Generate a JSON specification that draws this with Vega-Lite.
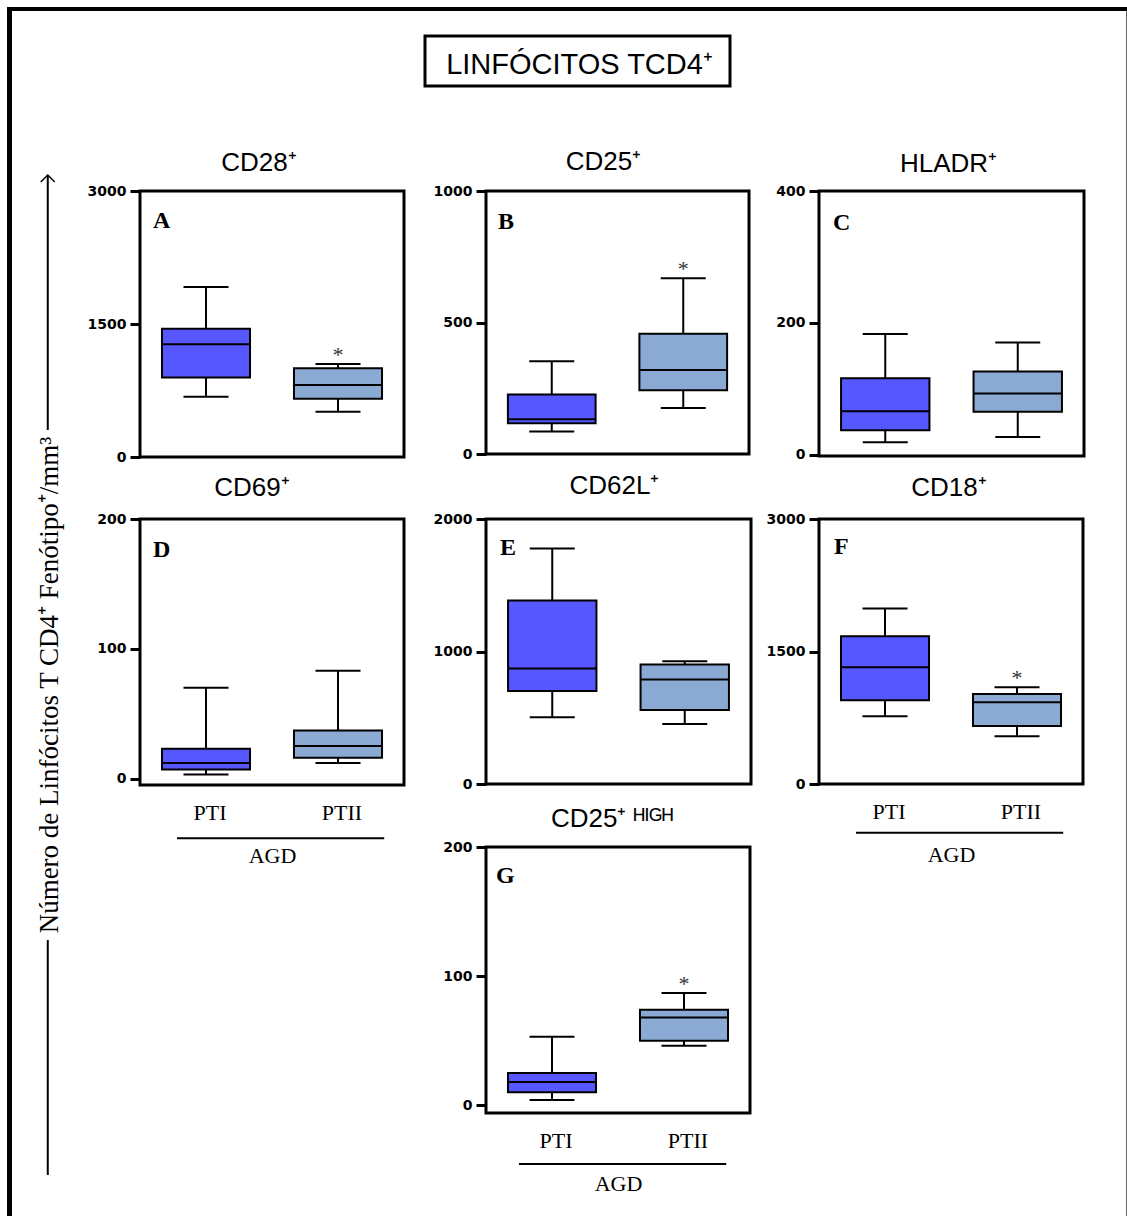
{
  "$schema": "https://vega.github.io/schema/vega-lite/v6.json",
  "padding": {"left": 7, "top": 7, "right": 0, "bottom": 0},
  "background": "white",
  "spacing": 0,
  "datasets": {
    "cajas": [
      {"panel": "A", "grupo": "PTI", "min": 679, "q1": 898, "mediana": 1271, "q3": 1446, "max": 1917, "sig": ""},
      {"panel": "A", "grupo": "PTII", "min": 509, "q1": 657, "mediana": 812, "q3": 1000, "max": 1049, "sig": "*"},
      {"panel": "B", "grupo": "PTI", "min": 86, "q1": 117, "mediana": 132, "q3": 226, "max": 353, "sig": ""},
      {"panel": "B", "grupo": "PTII", "min": 175, "q1": 242, "mediana": 319, "q3": 457, "max": 668, "sig": "*"},
      {"panel": "C", "grupo": "PTI", "min": 19, "q1": 37, "mediana": 66, "q3": 116, "max": 183, "sig": ""},
      {"panel": "C", "grupo": "PTII", "min": 27, "q1": 65, "mediana": 93, "q3": 126, "max": 170, "sig": ""},
      {"panel": "D", "grupo": "PTI", "min": 3, "q1": 7, "mediana": 12, "q3": 23, "max": 70, "sig": ""},
      {"panel": "D", "grupo": "PTII", "min": 12, "q1": 16, "mediana": 25, "q3": 37, "max": 83, "sig": ""},
      {"panel": "E", "grupo": "PTI", "min": 503, "q1": 702, "mediana": 871, "q3": 1384, "max": 1777, "sig": ""},
      {"panel": "E", "grupo": "PTII", "min": 453, "q1": 558, "mediana": 788, "q3": 901, "max": 926, "sig": ""},
      {"panel": "F", "grupo": "PTI", "min": 766, "q1": 947, "mediana": 1321, "q3": 1672, "max": 1987, "sig": ""},
      {"panel": "F", "grupo": "PTII", "min": 540, "q1": 657, "mediana": 925, "q3": 1018, "max": 1095, "sig": "*"},
      {"panel": "G", "grupo": "PTI", "min": 4, "q1": 10, "mediana": 18, "q3": 25, "max": 53, "sig": ""},
      {"panel": "G", "grupo": "PTII", "min": 46, "q1": 50, "mediana": 68, "q3": 74, "max": 87, "sig": "*"}
    ],
    "paneles": [
      {"panel": "A", "letra": "A"},
      {"panel": "B", "letra": "B"},
      {"panel": "C", "letra": "C"},
      {"panel": "D", "letra": "D"},
      {"panel": "E", "letra": "E"},
      {"panel": "F", "letra": "F"},
      {"panel": "G", "letra": "G"}
    ],
    "encabezado": [{"titulo": "LINFÓCITOS TCD4⁺"}]
  },
  "vconcat": [
    {
      "width": 1120, "height": 4,
      "view": {"fill": "black", "stroke": null},
      "data": {"values": []},
      "mark": "point"
    },
    {
      "spacing": 0,
      "hconcat": [
        {
          "width": 5, "height": 1205,
          "view": {"fill": "black", "stroke": null},
          "data": {"values": []},
          "mark": "point"
        },
        {
          "width": 73, "height": 1205,
          "data": {"values": [{}]},
          "encoding": {"x": {"datum": 0.49, "type": "quantitative", "scale": {"domain": [0, 1]}, "axis": null}},
          "layer": [
            {
              "mark": {"type": "rule", "color": "black", "strokeWidth": 2},
              "encoding": {"y": {"datum": 0.034, "type": "quantitative", "scale": {"domain": [0, 1]}, "axis": null}, "y2": {"datum": 0.229}}
            },
            {
              "mark": {"type": "rule", "color": "black", "strokeWidth": 2},
              "encoding": {"y": {"datum": 0.6523, "type": "quantitative", "scale": {"domain": [0, 1]}, "axis": null}, "y2": {"datum": 0.8639}}
            },
            {
              "mark": {"type": "point", "shape": "M -1 1 L 0 0 L 1 1", "filled": false, "stroke": "black", "strokeWidth": 1.5, "size": 196, "opacity": 1},
              "encoding": {"y": {"datum": 0.8639, "type": "quantitative", "scale": {"domain": [0, 1]}, "axis": null}}
            },
            {
              "mark": {"type": "text", "angle": 270, "font": "Liberation Serif", "fontSize": 27, "color": "black", "align": "center", "baseline": "middle", "dy": 2},
              "encoding": {
                "y": {"datum": 0.4407, "type": "quantitative", "scale": {"domain": [0, 1]}, "axis": null},
                "text": {"value": "Número de Linfócitos T CD4⁺ Fenótipo⁺/mm³"}
              }
            }
          ]
        },
        {
          "spacing": 0,
          "vconcat": [
            {
              "spacing": 0,
              "hconcat": [
                {"width": 283, "height": 75, "data": {"values": []}, "mark": "point"},
                {
                  "spacing": 0,
                  "vconcat": [
                    {"width": 305, "height": 22.5, "data": {"values": []}, "mark": "point"},
                    {
                      "width": 305, "height": 50,
                      "view": {"stroke": "black", "strokeWidth": 3},
                      "data": {"name": "encabezado"},
                      "mark": {"type": "text", "font": "Liberation Sans", "fontSize": 29, "color": "black", "baseline": "middle", "dy": 4, "dx": 2},
                      "encoding": {"text": {"field": "titulo"}}
                    }
                  ]
                }
              ]
            },
            {
              "columns": 3,
              "spacing": {"row": 62, "column": 68},
              "bounds": "flush",
              "align": "each",
              "concat": [
                {"width": 278, "height": 40.5, "data": {"values": []}, "mark": "point"},
                {"width": 264, "height": 40.5, "data": {"values": []}, "mark": "point"},
                {"width": 307, "height": 40.5, "data": {"values": []}, "mark": "point"},

                {
                  "width": 264, "height": 266,
                  "title": {"text": "CD28⁺", "offset": 8, "dx": -13},
                  "view": {"stroke": "black", "strokeWidth": 3},
                  "data": {"name": "cajas"},
                  "transform": [{"filter": "datum.panel === 'A'"}],
                  "encoding": {"x": {"field": "grupo", "type": "nominal", "scale": {"domain": ["PTI", "PTII"], "paddingInner": 0, "paddingOuter": 0}, "axis": null}},
                  "layer": [
                    {"mark": {"type": "rule", "color": "black", "strokeWidth": 2},
                     "encoding": {"y": {"field": "min", "type": "quantitative", "title": null, "scale": {"domain": [0, 3000], "nice": false, "zero": false}, "axis": {"values": [0, 1500, 3000]}}, "y2": {"field": "max"}}},
                    {"mark": {"type": "tick", "color": "black", "thickness": 2, "orient": "horizontal", "opacity": 1},
                     "encoding": {"y": {"field": "min", "type": "quantitative", "title": null, "scale": {"domain": [0, 3000], "nice": false, "zero": false}, "axis": {"values": [0, 1500, 3000]}}, "size": {"value": 45}}},
                    {"mark": {"type": "tick", "color": "black", "thickness": 2, "orient": "horizontal", "opacity": 1},
                     "encoding": {"y": {"field": "max", "type": "quantitative", "title": null, "scale": {"domain": [0, 3000], "nice": false, "zero": false}, "axis": {"values": [0, 1500, 3000]}}, "size": {"value": 45}}},
                    {"mark": {"type": "bar", "width": {"band": 0.667}, "stroke": "black", "strokeWidth": 2, "opacity": 1},
                     "encoding": {"y": {"field": "q1", "type": "quantitative", "title": null, "scale": {"domain": [0, 3000], "nice": false, "zero": false}, "axis": {"values": [0, 1500, 3000]}}, "y2": {"field": "q3"},
                                  "color": {"field": "grupo", "type": "nominal", "scale": {"domain": ["PTI", "PTII"], "range": ["#5757FF", "#8BAAD3"]}, "legend": null}}},
                    {"mark": {"type": "tick", "color": "black", "thickness": 2, "orient": "horizontal", "opacity": 1},
                     "encoding": {"y": {"field": "mediana", "type": "quantitative", "title": null, "scale": {"domain": [0, 3000], "nice": false, "zero": false}, "axis": {"values": [0, 1500, 3000]}}, "size": {"value": 88}}},
                    {"mark": {"type": "text", "font": "Liberation Serif", "fontSize": 22, "color": "#333333", "baseline": "alphabetic", "dy": -2},
                     "encoding": {"y": {"field": "max", "type": "quantitative", "title": null, "scale": {"domain": [0, 3000], "nice": false, "zero": false}, "axis": {"values": [0, 1500, 3000]}}, "text": {"field": "sig"}}},
                    {"data": {"name": "paneles"}, "transform": [{"filter": "datum.panel === 'A'"}],
                     "mark": {"type": "text", "font": "Liberation Serif", "fontSize": 24, "fontWeight": "bold", "color": "black", "align": "left", "baseline": "alphabetic", "dx": 13, "dy": 37},
                     "encoding": {"x": {"datum": "PTI", "bandPosition": 0, "axis": null}, "y": {"datum": 3000, "title": null, "axis": {"values": [0, 1500, 3000]}}, "text": {"field": "letra"}}}
                  ]
                },

                {
                  "width": 263, "height": 263,
                  "title": {"text": "CD25⁺", "offset": 9, "dx": -14},
                  "view": {"stroke": "black", "strokeWidth": 3},
                  "data": {"name": "cajas"},
                  "transform": [{"filter": "datum.panel === 'B'"}],
                  "encoding": {"x": {"field": "grupo", "type": "nominal", "scale": {"domain": ["PTI", "PTII"], "paddingInner": 0, "paddingOuter": 0}, "axis": null}},
                  "layer": [
                    {"mark": {"type": "rule", "color": "black", "strokeWidth": 2},
                     "encoding": {"y": {"field": "min", "type": "quantitative", "title": null, "scale": {"domain": [0, 1000], "nice": false, "zero": false}, "axis": {"values": [0, 500, 1000]}}, "y2": {"field": "max"}}},
                    {"mark": {"type": "tick", "color": "black", "thickness": 2, "orient": "horizontal", "opacity": 1},
                     "encoding": {"y": {"field": "min", "type": "quantitative", "title": null, "scale": {"domain": [0, 1000], "nice": false, "zero": false}, "axis": {"values": [0, 500, 1000]}}, "size": {"value": 45}}},
                    {"mark": {"type": "tick", "color": "black", "thickness": 2, "orient": "horizontal", "opacity": 1},
                     "encoding": {"y": {"field": "max", "type": "quantitative", "title": null, "scale": {"domain": [0, 1000], "nice": false, "zero": false}, "axis": {"values": [0, 500, 1000]}}, "size": {"value": 45}}},
                    {"mark": {"type": "bar", "width": {"band": 0.667}, "stroke": "black", "strokeWidth": 2, "opacity": 1},
                     "encoding": {"y": {"field": "q1", "type": "quantitative", "title": null, "scale": {"domain": [0, 1000], "nice": false, "zero": false}, "axis": {"values": [0, 500, 1000]}}, "y2": {"field": "q3"},
                                  "color": {"field": "grupo", "type": "nominal", "scale": {"domain": ["PTI", "PTII"], "range": ["#5757FF", "#8BAAD3"]}, "legend": null}}},
                    {"mark": {"type": "tick", "color": "black", "thickness": 2, "orient": "horizontal", "opacity": 1},
                     "encoding": {"y": {"field": "mediana", "type": "quantitative", "title": null, "scale": {"domain": [0, 1000], "nice": false, "zero": false}, "axis": {"values": [0, 500, 1000]}}, "size": {"value": 88}}},
                    {"mark": {"type": "text", "font": "Liberation Serif", "fontSize": 22, "color": "#333333", "baseline": "alphabetic", "dy": -2},
                     "encoding": {"y": {"field": "max", "type": "quantitative", "title": null, "scale": {"domain": [0, 1000], "nice": false, "zero": false}, "axis": {"values": [0, 500, 1000]}}, "text": {"field": "sig"}}},
                    {"data": {"name": "paneles"}, "transform": [{"filter": "datum.panel === 'B'"}],
                     "mark": {"type": "text", "font": "Liberation Serif", "fontSize": 24, "fontWeight": "bold", "color": "black", "align": "left", "baseline": "alphabetic", "dx": 12, "dy": 38},
                     "encoding": {"x": {"datum": "PTI", "bandPosition": 0, "axis": null}, "y": {"datum": 1000, "title": null, "axis": {"values": [0, 500, 1000]}}, "text": {"field": "letra"}}}
                  ]
                },

                {
                  "width": 265, "height": 265,
                  "title": {"text": "HLADR⁺", "offset": 7, "dx": -3},
                  "view": {"stroke": "black", "strokeWidth": 3},
                  "data": {"name": "cajas"},
                  "transform": [{"filter": "datum.panel === 'C'"}],
                  "encoding": {"x": {"field": "grupo", "type": "nominal", "scale": {"domain": ["PTI", "PTII"], "paddingInner": 0, "paddingOuter": 0}, "axis": null}},
                  "layer": [
                    {"mark": {"type": "rule", "color": "black", "strokeWidth": 2},
                     "encoding": {"y": {"field": "min", "type": "quantitative", "title": null, "scale": {"domain": [-2, 400], "nice": false, "zero": false}, "axis": {"values": [0, 200, 400]}}, "y2": {"field": "max"}}},
                    {"mark": {"type": "tick", "color": "black", "thickness": 2, "orient": "horizontal", "opacity": 1},
                     "encoding": {"y": {"field": "min", "type": "quantitative", "title": null, "scale": {"domain": [-2, 400], "nice": false, "zero": false}, "axis": {"values": [0, 200, 400]}}, "size": {"value": 45}}},
                    {"mark": {"type": "tick", "color": "black", "thickness": 2, "orient": "horizontal", "opacity": 1},
                     "encoding": {"y": {"field": "max", "type": "quantitative", "title": null, "scale": {"domain": [-2, 400], "nice": false, "zero": false}, "axis": {"values": [0, 200, 400]}}, "size": {"value": 45}}},
                    {"mark": {"type": "bar", "width": {"band": 0.667}, "stroke": "black", "strokeWidth": 2, "opacity": 1},
                     "encoding": {"y": {"field": "q1", "type": "quantitative", "title": null, "scale": {"domain": [-2, 400], "nice": false, "zero": false}, "axis": {"values": [0, 200, 400]}}, "y2": {"field": "q3"},
                                  "color": {"field": "grupo", "type": "nominal", "scale": {"domain": ["PTI", "PTII"], "range": ["#5757FF", "#8BAAD3"]}, "legend": null}}},
                    {"mark": {"type": "tick", "color": "black", "thickness": 2, "orient": "horizontal", "opacity": 1},
                     "encoding": {"y": {"field": "mediana", "type": "quantitative", "title": null, "scale": {"domain": [-2, 400], "nice": false, "zero": false}, "axis": {"values": [0, 200, 400]}}, "size": {"value": 88}}},
                    {"data": {"name": "paneles"}, "transform": [{"filter": "datum.panel === 'C'"}],
                     "mark": {"type": "text", "font": "Liberation Serif", "fontSize": 24, "fontWeight": "bold", "color": "black", "align": "left", "baseline": "alphabetic", "dx": 14, "dy": 39},
                     "encoding": {"x": {"datum": "PTI", "bandPosition": 0, "axis": null}, "y": {"datum": 400, "title": null, "axis": {"values": [0, 200, 400]}}, "text": {"field": "letra"}}}
                  ]
                },

                {
                  "width": 264, "height": 266,
                  "title": {"text": "CD69⁺", "offset": 11, "dx": -20},
                  "view": {"stroke": "black", "strokeWidth": 3},
                  "data": {"name": "cajas"},
                  "transform": [{"filter": "datum.panel === 'D'"}],
                  "encoding": {"x": {"field": "grupo", "type": "nominal", "title": "AGD", "scale": {"domain": ["PTI", "PTII"], "paddingInner": 0, "paddingOuter": 0}, "axis": {}}},
                  "layer": [
                    {"mark": {"type": "rule", "color": "black", "strokeWidth": 2},
                     "encoding": {"y": {"field": "min", "type": "quantitative", "title": null, "scale": {"domain": [-5, 200], "nice": false, "zero": false}, "axis": {"values": [0, 100, 200]}}, "y2": {"field": "max"}}},
                    {"mark": {"type": "tick", "color": "black", "thickness": 2, "orient": "horizontal", "opacity": 1},
                     "encoding": {"y": {"field": "min", "type": "quantitative", "title": null, "scale": {"domain": [-5, 200], "nice": false, "zero": false}, "axis": {"values": [0, 100, 200]}}, "size": {"value": 45}}},
                    {"mark": {"type": "tick", "color": "black", "thickness": 2, "orient": "horizontal", "opacity": 1},
                     "encoding": {"y": {"field": "max", "type": "quantitative", "title": null, "scale": {"domain": [-5, 200], "nice": false, "zero": false}, "axis": {"values": [0, 100, 200]}}, "size": {"value": 45}}},
                    {"mark": {"type": "bar", "width": {"band": 0.667}, "stroke": "black", "strokeWidth": 2, "opacity": 1},
                     "encoding": {"y": {"field": "q1", "type": "quantitative", "title": null, "scale": {"domain": [-5, 200], "nice": false, "zero": false}, "axis": {"values": [0, 100, 200]}}, "y2": {"field": "q3"},
                                  "color": {"field": "grupo", "type": "nominal", "scale": {"domain": ["PTI", "PTII"], "range": ["#5757FF", "#8BAAD3"]}, "legend": null}}},
                    {"mark": {"type": "tick", "color": "black", "thickness": 2, "orient": "horizontal", "opacity": 1},
                     "encoding": {"y": {"field": "mediana", "type": "quantitative", "title": null, "scale": {"domain": [-5, 200], "nice": false, "zero": false}, "axis": {"values": [0, 100, 200]}}, "size": {"value": 88}}},
                    {"data": {"name": "paneles"}, "transform": [{"filter": "datum.panel === 'D'"}],
                     "mark": {"type": "text", "font": "Liberation Serif", "fontSize": 24, "fontWeight": "bold", "color": "black", "align": "left", "baseline": "alphabetic", "dx": 13, "dy": 38},
                     "encoding": {"x": {"datum": "PTI", "bandPosition": 0, "title": "AGD", "axis": {}}, "y": {"datum": 200, "title": null, "axis": {"values": [0, 100, 200]}}, "text": {"field": "letra"}}},
                    {"data": {"name": "paneles"}, "transform": [{"filter": "datum.panel === 'D'"}],
                     "mark": {"type": "rule", "color": "black", "strokeWidth": 2},
                     "encoding": {"x": {"datum": "PTI", "bandPosition": 0.28, "title": "AGD", "axis": {}}, "x2": {"datum": "PTII", "bandPosition": 0.85}, "y": {"datum": -46, "title": null, "axis": {"values": [0, 100, 200]}}}}
                  ]
                },

                {
                  "width": 265, "height": 265,
                  "title": {"text": "CD62L⁺", "offset": 13, "dx": -4},
                  "view": {"stroke": "black", "strokeWidth": 3},
                  "data": {"name": "cajas"},
                  "transform": [{"filter": "datum.panel === 'E'"}],
                  "encoding": {"x": {"field": "grupo", "type": "nominal", "scale": {"domain": ["PTI", "PTII"], "paddingInner": 0, "paddingOuter": 0}, "axis": null}},
                  "layer": [
                    {"mark": {"type": "rule", "color": "black", "strokeWidth": 2},
                     "encoding": {"y": {"field": "min", "type": "quantitative", "title": null, "scale": {"domain": [0, 2000], "nice": false, "zero": false}, "axis": {"values": [0, 1000, 2000]}}, "y2": {"field": "max"}}},
                    {"mark": {"type": "tick", "color": "black", "thickness": 2, "orient": "horizontal", "opacity": 1},
                     "encoding": {"y": {"field": "min", "type": "quantitative", "title": null, "scale": {"domain": [0, 2000], "nice": false, "zero": false}, "axis": {"values": [0, 1000, 2000]}}, "size": {"value": 45}}},
                    {"mark": {"type": "tick", "color": "black", "thickness": 2, "orient": "horizontal", "opacity": 1},
                     "encoding": {"y": {"field": "max", "type": "quantitative", "title": null, "scale": {"domain": [0, 2000], "nice": false, "zero": false}, "axis": {"values": [0, 1000, 2000]}}, "size": {"value": 45}}},
                    {"mark": {"type": "bar", "width": {"band": 0.667}, "stroke": "black", "strokeWidth": 2, "opacity": 1},
                     "encoding": {"y": {"field": "q1", "type": "quantitative", "title": null, "scale": {"domain": [0, 2000], "nice": false, "zero": false}, "axis": {"values": [0, 1000, 2000]}}, "y2": {"field": "q3"},
                                  "color": {"field": "grupo", "type": "nominal", "scale": {"domain": ["PTI", "PTII"], "range": ["#5757FF", "#8BAAD3"]}, "legend": null}}},
                    {"mark": {"type": "tick", "color": "black", "thickness": 2, "orient": "horizontal", "opacity": 1},
                     "encoding": {"y": {"field": "mediana", "type": "quantitative", "title": null, "scale": {"domain": [0, 2000], "nice": false, "zero": false}, "axis": {"values": [0, 1000, 2000]}}, "size": {"value": 88}}},
                    {"data": {"name": "paneles"}, "transform": [{"filter": "datum.panel === 'E'"}],
                     "mark": {"type": "text", "font": "Liberation Serif", "fontSize": 24, "fontWeight": "bold", "color": "black", "align": "left", "baseline": "alphabetic", "dx": 14, "dy": 36},
                     "encoding": {"x": {"datum": "PTI", "bandPosition": 0, "axis": null}, "y": {"datum": 2000, "title": null, "axis": {"values": [0, 1000, 2000]}}, "text": {"field": "letra"}}}
                  ]
                },

                {
                  "width": 264, "height": 265,
                  "title": {"text": "CD18⁺", "offset": 11, "dx": -2},
                  "view": {"stroke": "black", "strokeWidth": 3},
                  "data": {"name": "cajas"},
                  "transform": [{"filter": "datum.panel === 'F'"}],
                  "encoding": {"x": {"field": "grupo", "type": "nominal", "title": "AGD", "scale": {"domain": ["PTI", "PTII"], "paddingInner": 0, "paddingOuter": 0}, "axis": {}}},
                  "layer": [
                    {"mark": {"type": "rule", "color": "black", "strokeWidth": 2},
                     "encoding": {"y": {"field": "min", "type": "quantitative", "title": null, "scale": {"domain": [0, 3000], "nice": false, "zero": false}, "axis": {"values": [0, 1500, 3000]}}, "y2": {"field": "max"}}},
                    {"mark": {"type": "tick", "color": "black", "thickness": 2, "orient": "horizontal", "opacity": 1},
                     "encoding": {"y": {"field": "min", "type": "quantitative", "title": null, "scale": {"domain": [0, 3000], "nice": false, "zero": false}, "axis": {"values": [0, 1500, 3000]}}, "size": {"value": 45}}},
                    {"mark": {"type": "tick", "color": "black", "thickness": 2, "orient": "horizontal", "opacity": 1},
                     "encoding": {"y": {"field": "max", "type": "quantitative", "title": null, "scale": {"domain": [0, 3000], "nice": false, "zero": false}, "axis": {"values": [0, 1500, 3000]}}, "size": {"value": 45}}},
                    {"mark": {"type": "bar", "width": {"band": 0.667}, "stroke": "black", "strokeWidth": 2, "opacity": 1},
                     "encoding": {"y": {"field": "q1", "type": "quantitative", "title": null, "scale": {"domain": [0, 3000], "nice": false, "zero": false}, "axis": {"values": [0, 1500, 3000]}}, "y2": {"field": "q3"},
                                  "color": {"field": "grupo", "type": "nominal", "scale": {"domain": ["PTI", "PTII"], "range": ["#5757FF", "#8BAAD3"]}, "legend": null}}},
                    {"mark": {"type": "tick", "color": "black", "thickness": 2, "orient": "horizontal", "opacity": 1},
                     "encoding": {"y": {"field": "mediana", "type": "quantitative", "title": null, "scale": {"domain": [0, 3000], "nice": false, "zero": false}, "axis": {"values": [0, 1500, 3000]}}, "size": {"value": 88}}},
                    {"mark": {"type": "text", "font": "Liberation Serif", "fontSize": 22, "color": "#333333", "baseline": "alphabetic", "dy": -2},
                     "encoding": {"y": {"field": "max", "type": "quantitative", "title": null, "scale": {"domain": [0, 3000], "nice": false, "zero": false}, "axis": {"values": [0, 1500, 3000]}}, "text": {"field": "sig"}}},
                    {"data": {"name": "paneles"}, "transform": [{"filter": "datum.panel === 'F'"}],
                     "mark": {"type": "text", "font": "Liberation Serif", "fontSize": 24, "fontWeight": "bold", "color": "black", "align": "left", "baseline": "alphabetic", "dx": 15, "dy": 35},
                     "encoding": {"x": {"datum": "PTI", "bandPosition": 0, "title": "AGD", "axis": {}}, "y": {"datum": 3000, "title": null, "axis": {"values": [0, 1500, 3000]}}, "text": {"field": "letra"}}},
                    {"data": {"name": "paneles"}, "transform": [{"filter": "datum.panel === 'F'"}],
                     "mark": {"type": "rule", "color": "black", "strokeWidth": 2},
                     "encoding": {"x": {"datum": "PTI", "bandPosition": 0.28, "title": "AGD", "axis": {}}, "x2": {"datum": "PTII", "bandPosition": 0.85}, "y": {"datum": -553, "title": null, "axis": {"values": [0, 1500, 3000]}}}}
                  ]
                },

                {"width": 10, "height": 10, "data": {"values": []}, "mark": "point"},

                {
                  "width": 264, "height": 266,
                  "title": {"text": "CD25⁺ ᴴᴵᴳᴴ", "offset": 8, "dx": -6},
                  "view": {"stroke": "black", "strokeWidth": 3},
                  "data": {"name": "cajas"},
                  "transform": [{"filter": "datum.panel === 'G'"}],
                  "encoding": {"x": {"field": "grupo", "type": "nominal", "title": "AGD", "scale": {"domain": ["PTI", "PTII"], "paddingInner": 0, "paddingOuter": 0}, "axis": {}}},
                  "layer": [
                    {"mark": {"type": "rule", "color": "black", "strokeWidth": 2},
                     "encoding": {"y": {"field": "min", "type": "quantitative", "title": null, "scale": {"domain": [-6, 200], "nice": false, "zero": false}, "axis": {"values": [0, 100, 200]}}, "y2": {"field": "max"}}},
                    {"mark": {"type": "tick", "color": "black", "thickness": 2, "orient": "horizontal", "opacity": 1},
                     "encoding": {"y": {"field": "min", "type": "quantitative", "title": null, "scale": {"domain": [-6, 200], "nice": false, "zero": false}, "axis": {"values": [0, 100, 200]}}, "size": {"value": 45}}},
                    {"mark": {"type": "tick", "color": "black", "thickness": 2, "orient": "horizontal", "opacity": 1},
                     "encoding": {"y": {"field": "max", "type": "quantitative", "title": null, "scale": {"domain": [-6, 200], "nice": false, "zero": false}, "axis": {"values": [0, 100, 200]}}, "size": {"value": 45}}},
                    {"mark": {"type": "bar", "width": {"band": 0.667}, "stroke": "black", "strokeWidth": 2, "opacity": 1},
                     "encoding": {"y": {"field": "q1", "type": "quantitative", "title": null, "scale": {"domain": [-6, 200], "nice": false, "zero": false}, "axis": {"values": [0, 100, 200]}}, "y2": {"field": "q3"},
                                  "color": {"field": "grupo", "type": "nominal", "scale": {"domain": ["PTI", "PTII"], "range": ["#5757FF", "#8BAAD3"]}, "legend": null}}},
                    {"mark": {"type": "tick", "color": "black", "thickness": 2, "orient": "horizontal", "opacity": 1},
                     "encoding": {"y": {"field": "mediana", "type": "quantitative", "title": null, "scale": {"domain": [-6, 200], "nice": false, "zero": false}, "axis": {"values": [0, 100, 200]}}, "size": {"value": 88}}},
                    {"mark": {"type": "text", "font": "Liberation Serif", "fontSize": 22, "color": "#333333", "baseline": "alphabetic", "dy": -2},
                     "encoding": {"y": {"field": "max", "type": "quantitative", "title": null, "scale": {"domain": [-6, 200], "nice": false, "zero": false}, "axis": {"values": [0, 100, 200]}}, "text": {"field": "sig"}}},
                    {"data": {"name": "paneles"}, "transform": [{"filter": "datum.panel === 'G'"}],
                     "mark": {"type": "text", "font": "Liberation Serif", "fontSize": 24, "fontWeight": "bold", "color": "black", "align": "left", "baseline": "alphabetic", "dx": 10, "dy": 36},
                     "encoding": {"x": {"datum": "PTI", "bandPosition": 0, "title": "AGD", "axis": {}}, "y": {"datum": 200, "title": null, "axis": {"values": [0, 100, 200]}}, "text": {"field": "letra"}}},
                    {"data": {"name": "paneles"}, "transform": [{"filter": "datum.panel === 'G'"}],
                     "mark": {"type": "rule", "color": "black", "strokeWidth": 2},
                     "encoding": {"x": {"datum": "PTI", "bandPosition": 0.25, "title": "AGD", "axis": {}}, "x2": {"datum": "PTII", "bandPosition": 0.82}, "y": {"datum": -45.5, "title": null, "axis": {"values": [0, 100, 200]}}}}
                  ]
                }
              ]
            }
          ]
        },
        {
          "width": 1, "height": 1205,
          "view": {"fill": "#666666", "stroke": null},
          "data": {"values": []},
          "mark": "point"
        }
      ]
    }
  ],
  "config": {
    "view": {"stroke": null},
    "font": "Liberation Sans",
    "numberFormat": "d",
    "title": {"font": "Liberation Sans", "fontSize": 26, "fontWeight": "normal", "color": "black", "frame": "group", "anchor": "middle"},
    "axisY": {
      "domain": false, "grid": false, "ticks": true, "tickSize": 10, "tickWidth": 3, "tickColor": "black",
      "labelFont": "DejaVu Sans", "labelFontWeight": "bold", "labelFontSize": 14, "labelColor": "black",
      "labelPadding": 4, "labelFlush": false, "labelOverlap": false
    },
    "axisX": {
      "domain": false, "grid": false, "ticks": false, "tickSize": 0,
      "labelFont": "Liberation Serif", "labelFontSize": 22, "labelColor": "black", "labelAngle": 0,
      "labelPadding": 17, "labelOffset": 4,
      "titleFont": "Liberation Serif", "titleFontSize": 22, "titleFontWeight": "normal", "titleColor": "black", "titlePadding": 22
    }
  }
}
